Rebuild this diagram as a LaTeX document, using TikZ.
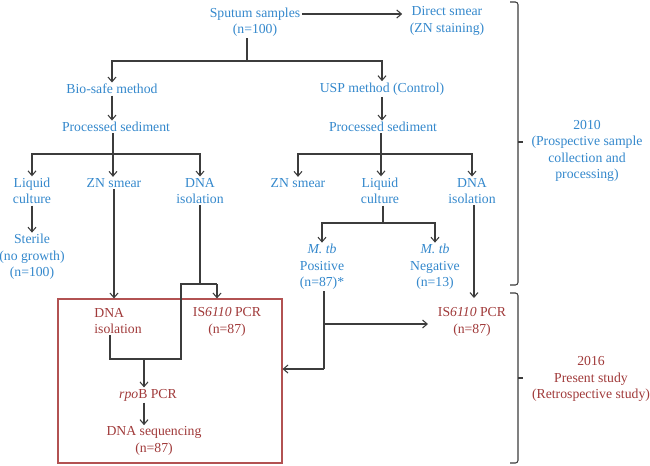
\documentclass[tikz,border=0pt]{standalone}
\usepackage{fontspec}
\setmainfont{Liberation Serif}
\usetikzlibrary{arrows.meta,calc}
\definecolor{tblue}{RGB}{52,136,204}
\definecolor{tred}{RGB}{160,58,58}
\definecolor{bred}{RGB}{178,82,82}
\definecolor{lgray}{RGB}{60,60,60}
\begin{document}
\begin{tikzpicture}[x=0.75pt,y=-0.75pt,
  font=\fontsize{10.3}{12.4}\selectfont,
  bt/.style={text=tblue,align=center,inner sep=1pt},
  rt/.style={text=tred,align=center,inner sep=1pt},
  ln/.style={draw=lgray,line width=0.8pt},
  arr/.style={ln,-{Straight Barb[length=3.5pt,width=6pt]}},
  brace/.style={draw=lgray,line width=0.8pt,rounded corners=2pt}]
\useasboundingbox (0,0) rectangle (650,465);
% nodes
\node[bt] (sputum) at (255,22) {Sputum samples\\(n=100)};
\node[bt] (direct) at (447,21) {Direct smear\\(ZN staining)};
\node[bt] (biosafe) at (112,89) {Bio-safe method};
\node[bt] (usp) at (382,89) {USP method (Control)};
\node[bt] (procL) at (116,127) {Processed sediment};
\node[bt] (procR) at (383,127) {Processed sediment};
\node[bt] (lcL) at (32,191) {Liquid\\culture};
\node[bt] (znL) at (114,183) {ZN smear};
\node[bt] (dnaL) at (200,191) {DNA\\isolation};
\node[bt] (sterile) at (32,257) {Sterile\\(no growth)\\(n=100)};
\node[bt] (znR) at (298,183) {ZN smear};
\node[bt] (lcR) at (380,191) {Liquid\\culture};
\node[bt] (dnaR) at (472,191) {DNA\\isolation};
\node[bt] (pos) at (322,267) {\textit{M. tb}\\Positive\\(n=87)*};
\node[bt] (neg) at (435,267) {\textit{M. tb}\\Negative\\(n=13)};
\node[rt] (isR) at (472,322) {IS\textit{6110} PCR\\(n=87)};
\node[draw=bred,line width=0.8pt,minimum width=168pt,minimum height=123pt,inner sep=0pt] (box) at (170,381) {};
\node[rt,align=left] (dnaBox) at (118,321) {DNA\\isolation};
\node[rt] (isBox) at (227,322) {IS\textit{6110} PCR\\(n=87)};
\node[rt] (rpob) at (148,395) {\textit{rpo}B PCR};
\node[rt] (seq) at (154,441) {DNA sequencing\\(n=87)};
\node[bt] (t2010) at (587,151) {2010\\(Prospective sample\\collection and\\processing)};
\node[rt] (t2016) at (591,379) {2016\\Present study\\(Retrospective study)};
% top
\draw[arr] ($(sputum.east)+(0,-8)$) -- ($(direct.west)+(-6,-7)$);
\coordinate (j1) at (247,61);
\draw[ln] (sputum.south -| j1) -- (j1);
\draw[arr] (j1) -| (biosafe.north);
\draw[arr] (j1) -| (usp.north);
\draw[arr] (biosafe.south) -- (biosafe.south |- procL.north);
\draw[arr] (usp.south) -- (usp.south |- procR.north);
% left columns
\coordinate (jL) at (113,154);
\draw[ln] (procL.south -| jL) -- (jL);
\draw[arr] (jL) -| (lcL.north);
\draw[arr] (jL) -- (jL |- znL.north);
\draw[arr] (jL) -| (dnaL.north);
\draw[arr] (lcL.south) -- (sterile.north);
\draw[arr] (znL.south) -- (znL.south |- box.north);
% left DNA isolation routing
\coordinate (k1) at (200,284);
\coordinate (k2) at (181,284);
\coordinate (k3) at (217,284);
\coordinate (m0) at (110,359);
\coordinate (m1) at (144,359);
\coordinate (m2) at (181,359);
\draw[ln] (dnaL.south) -- (k1);
\draw[ln] (dnaBox.south -| m0) -- (m0) -- (m2) -- (k2) -- (k3);
\draw[arr] (k3) -- (k3 |- box.north);
\draw[arr] (m1) -- (rpob.north -| m1);
\draw[arr] (rpob.south -| m1) -- (seq.north -| m1);
% right columns
\coordinate (jR) at (381,154);
\draw[ln] (procR.south -| jR) -- (jR);
\draw[arr] (jR) -| (znR.north);
\draw[arr] (jR) -- (jR |- lcR.north);
\draw[arr] (jR) -| (dnaR.north);
\coordinate (jR2) at (383,223);
\draw[ln] (lcR.south -| jR2) -- (jR2);
\draw[arr] (jR2) -| (pos.north);
\draw[arr] (jR2) -| (neg.north);
\coordinate (t1) at (474,298);
\draw[arr] (dnaR.south -| t1) -- (t1);
\coordinate (p1) at (324,324);
\coordinate (p2) at (324,369);
\coordinate (p3) at (428,324);
\draw[ln] (pos.south -| p1) -- (p2);
\draw[arr] (p1) -- (p3);
\draw[arr] (p2) -- (p2 -| box.east);
% braces
\draw[brace] (510,2) -- (518,2) -- (518,285) -- (510,285);
\draw[ln] (518,142) -- (523,142);
\draw[brace] (510,293) -- (518,293) -- (518,463) -- (510,463);
\draw[ln] (518,378) -- (523,378);
\end{tikzpicture}
\end{document}
